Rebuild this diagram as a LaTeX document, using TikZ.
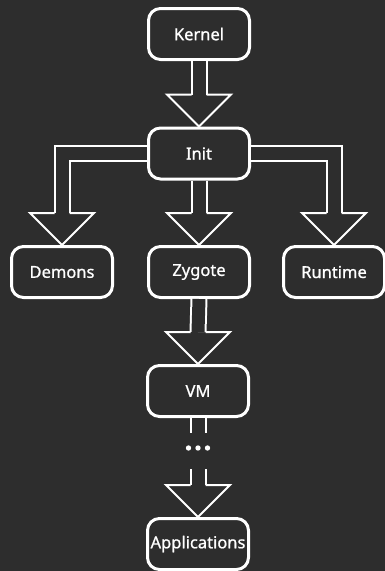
\documentclass[tikz,border=0pt]{standalone}
\usepackage{fontspec}
\setmainfont{Noto Sans}
\newfontfamily\stagefamily{Noto Sans}[FakeBold=0.9]
\usetikzlibrary{calc}
\definecolor{bg}{HTML}{2D2D2D}
\newcommand{\stagefont}{\stagefamily\fontsize{16.5}{19}\selectfont}
\tikzset{
 every node/.append style={font=\stagefont,text=white,align=center},
 stage/.style={draw=white,fill=bg,line width=3pt,rounded corners=12pt,minimum width=101pt,minimum height=51pt,inner sep=1pt},
 shaft/.style={draw=white,line width=2pt,double=bg,double distance=13pt,line join=miter},
 head/.style={draw=white,line width=2pt,line join=miter},
 gapbox/.style={minimum height=36pt,minimum width=30pt,inner sep=0pt,outer sep=0pt},
}
% hollow head ending on the top of a stage
\newcommand{\stagehead}[1]{
 \draw[head] ($(#1.north)+(7.5,-32)$) -- ++(24.5,0) -- (#1.north) -- ++(-32,-32) -- ++(24.5,0);
}

\begin{document}
\begin{tikzpicture}[x=1pt,y=-1pt]

\fill[bg] (0,0) rectangle (385,571);
\useasboundingbox (0,0) rectangle (385,571);
\node[stage] (kernel) at (199,34) {Kernel};
\node[stage] (init) at (199,153.5) {Init};
\node[stage] (demons) at (62,272) {Demons};
\node[stage] (zygote) at (199,272) {Zygote};
\node[stage] (runtime) at (334,272) {Runtime};
\node[stage] (vm) at (198,391) {VM};
\node[stage] (apps) at (198,544) {Applications};
\node[gapbox] (gap) at (198,451) {};
\foreach \dx in {-9.5,0,9.5} \fill[white] ($(gap)+(\dx,-3)$) circle (2.7pt);
\draw[shaft] (kernel.south) -- ($(init.north)+(0,-32)$); \stagehead{init}
\draw[shaft] (init.west) -| ($(demons.north)+(0,-32)$); \stagehead{demons}
\draw[shaft] (init.south) -- ($(zygote.north)+(0,-32)$); \stagehead{zygote}
\draw[shaft] (init.east) -| ($(runtime.north)+(0,-32)$); \stagehead{runtime}
\draw[shaft] (zygote.south) -- ($(vm.north)+(0,-32)$); \stagehead{vm}
\draw[shaft] (vm.south) -- (gap.north);
\draw[shaft] (gap.south) -- ($(apps.north)+(0,-32)$); \stagehead{apps}

\end{tikzpicture}
\end{document}
